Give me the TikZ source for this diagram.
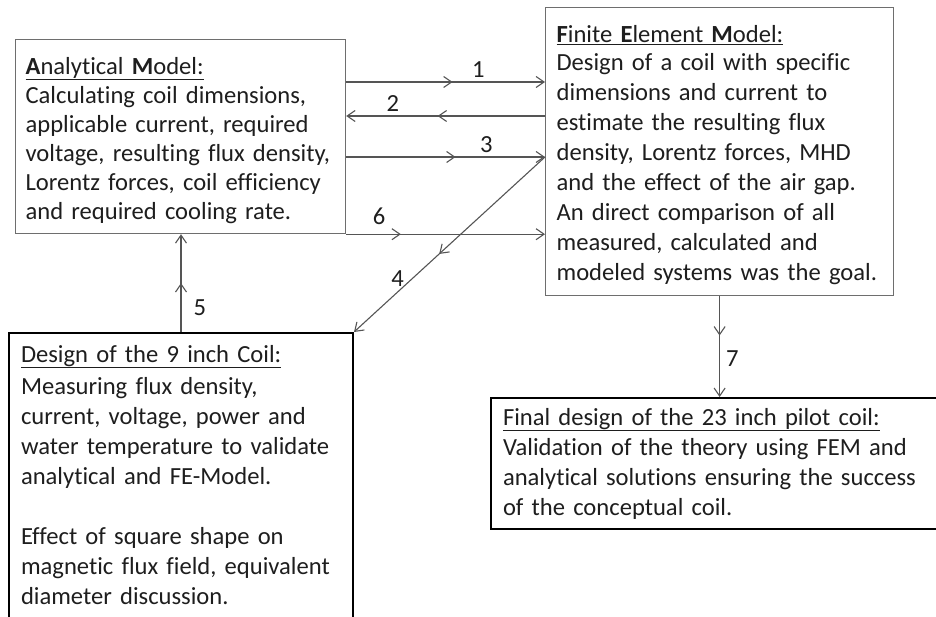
\documentclass[tikz,border=0pt]{standalone}
\usepackage{fontspec}
\setmainfont{Carlito}[Ligatures={TeX,NoCommon}]
\usetikzlibrary{arrows.meta,decorations.markings,calc}
\definecolor{txt}{HTML}{1E1E1E}
\definecolor{lin}{HTML}{555555}
\definecolor{thinbox}{HTML}{6E6E6E}
\newcommand{\Ln}[1]{\mbox{#1}}
\tikzset{
  body/.style={font=\fontsize{24.6}{30}\selectfont, text=txt, align=left, anchor=north west, inner ysep=0pt},
  lightbox/.style={body, draw=thinbox, line width=1.2pt},
  heavybox/.style={body, draw=black, line width=2pt},
  conn/.style={draw=lin, line width=1.1pt, -{Straight Barb[length=8pt,width=11pt]}},
  midarrow/.style={postaction={decorate,decoration={markings,mark=at position #1 with {\arrow{Straight Barb[length=8pt,width=11pt]}}}}},
  lab/.style={font=\fontsize{24.6}{30}\selectfont, text=txt, inner sep=0pt}
}
\begin{document}
\begin{tikzpicture}[x=1pt,y=-1pt]
\clip (0,0) rectangle (936,617);
\fill[white] (0,0) rectangle (936,617);

\node[lightbox, font=\fontsize{24.6}{29}\selectfont, inner xsep=10pt, text width=310pt, minimum width=330pt, text height=34.5pt, text depth=159.5pt] (ana) at (15,39)
{\Ln{\underline{\textbf{A}nalytical \textbf{M}odel:}}\\
\Ln{Calculating coil dimensions,}\\
\Ln{applicable current, required}\\
\Ln{voltage, resulting flux density,}\\
\Ln{Lorentz forces, coil efficiency}\\
\Ln{and required cooling rate.}};

\node[lightbox, inner xsep=11pt, text width=326pt, minimum width=348pt, text height=35pt, text depth=253pt] (fem) at (545,7)
{\Ln{\underline{\textbf{F}inite \textbf{E}lement \textbf{M}odel:}}\\[-2pt]
\Ln{Design of a coil with specific}\\
\Ln{dimensions and current to}\\
\Ln{estimate the resulting flux}\\
\Ln{density, Lorentz forces, MHD}\\
\Ln{and the effect of the air gap.}\\
\Ln{An direct comparison of all}\\
\Ln{measured, calculated and}\\
\Ln{modeled systems was the goal.}};

\node[heavybox, inner xsep=12pt, text width=320pt, minimum width=344pt, text height=29pt, text depth=270pt] (des) at (8,332)
{\Ln{\underline{Design of the 9 inch Coil:}}\\[2pt]
\Ln{Measuring flux density,}\\
\Ln{current, voltage, power and}\\
\Ln{water temperature to validate}\\
\Ln{analytical and FE-Model.}\\
\Ln{~}\\
\Ln{Effect of square shape on}\\
\Ln{magnetic flux field, equivalent}\\
\Ln{diameter discussion.}};

\node[heavybox, inner xsep=12pt, text width=436pt, minimum width=460pt, text height=27pt, text depth=104pt] (fin) at (490,397)
{\Ln{\underline{Final design of the 23 inch pilot coil:}}\\
\Ln{Validation of the theory using FEM and}\\
\Ln{analytical solutions ensuring the success}\\
\Ln{of the conceptual coil.}};

\coordinate (a1) at ([yshift=-43pt]ana.north east);
\coordinate (a2) at ([yshift=-77pt]ana.north east);
\coordinate (a3) at ([yshift=-118pt]ana.north east);

\draw[conn, midarrow=0.535] (a1) -- node[lab, pos=0.665, above=4pt] (l1) {1} (a1 -| fem.west);
\draw[conn, midarrow=0.54] (a2 -| fem.west) -- node[lab, pos=0.765, above=4pt] (l2) {2} (a2);
\draw[conn, midarrow=0.55] (a3) -- node[lab, pos=0.705, above=4pt] (l3) {3} (a3 -| fem.west);
\draw[conn, midarrow=0.275] (ana.south east) -- node[lab, pos=0.165, above=9pt] (l6) {6} (ana.south east -| fem.west);
\draw[conn, midarrow=0.554] (a3 -| fem.west) -- node[lab, pos=0.767, above left=0pt, xshift=6pt, yshift=4pt] (l4) {4} (des.north east);
\draw[conn, midarrow=0.5] (des.north) -- node[lab, pos=0.25, right=12pt] (l5) {5} (des.north |- ana.south);
\draw[conn, midarrow=0.39] (fem.south) -- node[lab, pos=0.62, right=6pt] (l7) {7} (fem.south |- fin.north);
\end{tikzpicture}
\end{document}
